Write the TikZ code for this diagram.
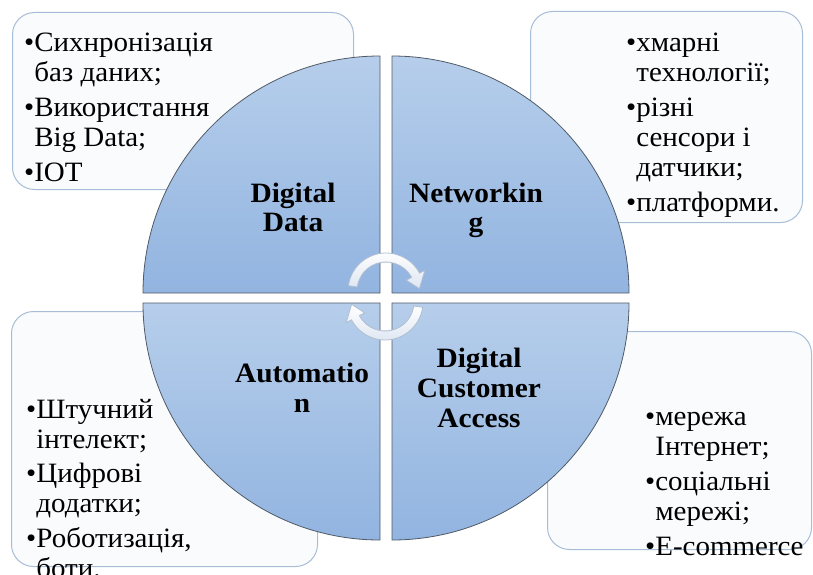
\documentclass[tikz,border=0pt]{standalone}
\usepackage{fontspec}
\setmainfont{Liberation Serif}

\definecolor{quadtop}{RGB}{182,206,235}
\definecolor{quadbot}{RGB}{146,180,224}
\definecolor{quadline}{RGB}{80,90,102}
\definecolor{boxline}{RGB}{167,188,214}
\definecolor{boxfill}{RGB}{250,251,253}
\definecolor{arrline}{RGB}{176,190,208}
\definecolor{arrfill}{RGB}{222,230,242}

\tikzset{
    quad/.style={ top color=quadtop, bottom color=quadbot, draw=quadline, line width=0.8pt,},
    infobox/.style={ draw=boxline, fill=boxfill, rounded corners=22pt, line width=1pt, anchor=south west, inner sep=0pt,},
    itemtext/.style={ anchor=base west, inner sep=0pt, font=\fontsize{28}{30}\selectfont,},
    quadlabel/.style={ anchor=base, inner sep=0pt, font=\fontsize{28}{30}\selectfont\bfseries,},
    cyc/.style={ top color=white, bottom color=arrfill, draw=arrline, line width=0.8pt,},
    %Define style for boxes
  }

\begin{document}
\begin{tikzpicture}[x=1pt,y=1pt]

\useasboundingbox (0,0) rectangle (813,574);

% boxes behind the circle
  \node[infobox, minimum width=341pt, minimum height=177pt] (dataBox)   at (12,384) {};
  \node[infobox, minimum width=272pt, minimum height=211pt] (netBox)    at (530,351) {};
  \node[infobox, minimum width=306pt, minimum height=255pt] (autoBox)   at (11,7) {};
  \node[infobox, minimum width=264pt, minimum height=218pt] (accessBox) at (547,24) {};

% texts of the boxes
  \node[itemtext] (dataText) at (24,522) {\scalebox{1.035}[1]{\begin{tabular}[t]{@{}l@{}l@{}}
      •&Сихнронізація\\ &баз даних;\\[5pt]
      •&Використання\\ &Big Data;\\[5pt]
      •&IOT\end{tabular}}};
  \node[itemtext] (netText) at (626,522) {\scalebox{1.035}[1]{\begin{tabular}[t]{@{}l@{}l@{}}
      •&хмарні\\ &технології;\\[5pt]
      •&різні\\ &сенсори і\\ &датчики;\\[5pt]
      •&платформи.\end{tabular}}};
  \node[itemtext] (autoText) at (26,156) {\scalebox{1.035}[1]{\begin{tabular}[t]{@{}l@{}l@{}}
      •&Штучний\\ &інтелект;\\[4pt]
      •&Цифрові\\ &додатки;\\[5pt]
      •&Роботизація,\\ &боти.\end{tabular}}};
  \node[itemtext] (accessText) at (645,149) {\scalebox{1.035}[1]{\begin{tabular}[t]{@{}l@{}l@{}}
      •&мережа\\ &Інтернет;\\[5pt]
      •&соціальні\\ &мережі;\\[5pt]
      •&E-commerce\end{tabular}}};

% the four quarters
  \path[quad] (380,281) -- ++(0,237)  arc[start angle=90,  end angle=180, radius=237] -- cycle;
  \path[quad] (392,281) -- ++(237,0)  arc[start angle=0,   end angle=90,  radius=237] -- cycle;
  \path[quad] (380,271) -- ++(-237,0) arc[start angle=180, end angle=270, radius=237] -- cycle;
  \path[quad] (392,271) -- ++(0,-237) arc[start angle=270, end angle=360, radius=237] -- cycle;

  \node[quadlabel] (dataLbl)   at (293,372) {\scalebox{1.05}[1]{\begin{tabular}[t]{@{}c@{}}Digital\\Data\end{tabular}}};
  \node[quadlabel] (netLbl)    at (476,372) {\scalebox{1.05}[1]{\begin{tabular}[t]{@{}c@{}}Networkin\\g\end{tabular}}};
  \node[quadlabel] (autoLbl)   at (302,192) {\scalebox{1.05}[1]{\begin{tabular}[t]{@{}c@{}}Automatio\\n\end{tabular}}};
  \node[quadlabel] (accessLbl) at (479,207) {\scalebox{1.05}[1]{\begin{tabular}[t]{@{}c@{}}Digital\\Customer\\Access\end{tabular}}};

% circular arrows
  \begin{scope}[shift={(386,283)}]
    \path[cyc] (172:38) arc[start angle=172, end angle=28, radius=38] -- (28:44) -- (4:33.5)
               -- (28:23) -- (28:29) arc[start angle=28, end angle=172, radius=29] -- cycle;
  \end{scope}
  \begin{scope}[shift={(385,272)}, rotate=180]
    \path[cyc] (172:38) arc[start angle=172, end angle=28, radius=38] -- (28:44) -- (4:33.5)
               -- (28:23) -- (28:29) arc[start angle=28, end angle=172, radius=29] -- cycle;
  \end{scope}

\end{tikzpicture}
\end{document}
